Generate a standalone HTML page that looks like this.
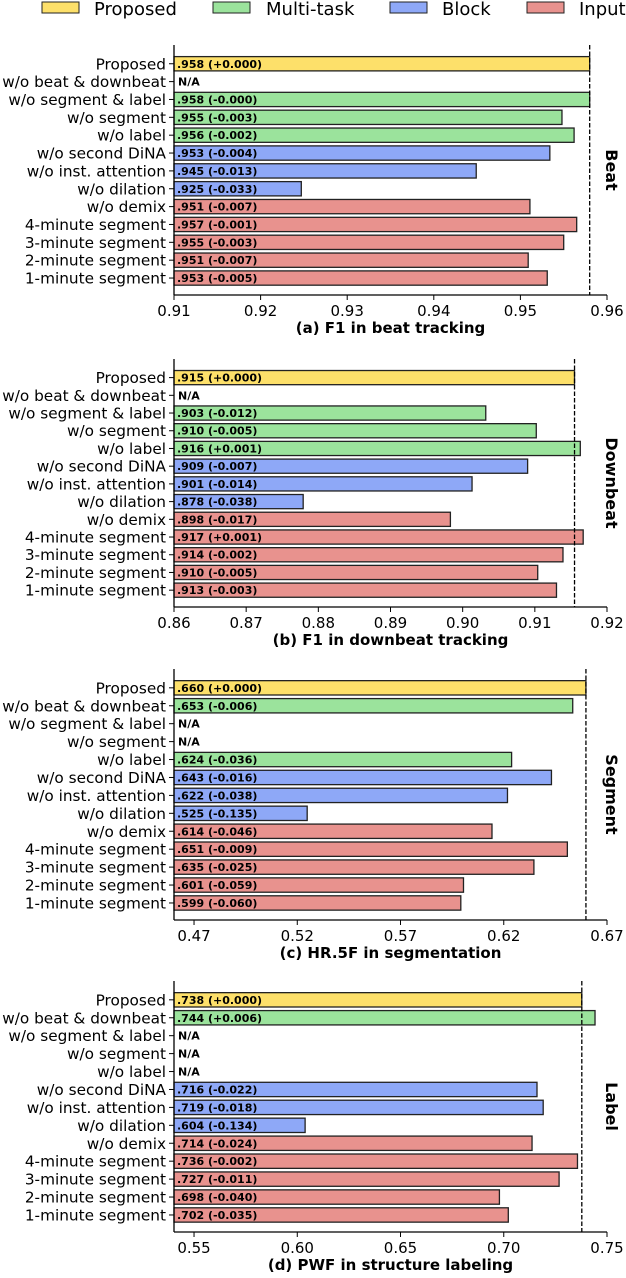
<!DOCTYPE html>
<html><head><meta charset="utf-8"><style>
body{margin:0;background:#fff}
svg{display:block;font-family:"DejaVu Sans","Liberation Sans",sans-serif}
</style></head><body>
<svg id="c" width="626" height="1278" viewBox="0 0 626 1278">
<g>
  <g><rect x="42" y="2" width="37" height="11" fill="#fde06a" stroke="#222" stroke-width="1"/><text x="94" y="15" font-size="18">Proposed</text></g>
  <g><rect x="213" y="2" width="37" height="11" fill="#9be39c" stroke="#222" stroke-width="1"/><text x="266" y="15" font-size="18">Multi-task</text></g>
  <g><rect x="390" y="2" width="37" height="11" fill="#8ea8f7" stroke="#222" stroke-width="1"/><text x="442" y="15" font-size="18">Block</text></g>
  <g><rect x="527" y="2" width="37" height="11" fill="#e8928e" stroke="#222" stroke-width="1"/><text x="579" y="15" font-size="18">Input</text></g>
</g>
</svg>
<script>
const categories=["Proposed","w/o beat & downbeat","w/o segment & label","w/o segment","w/o label","w/o second DiNA","w/o inst. attention","w/o dilation","w/o demix","4-minute segment","3-minute segment","2-minute segment","1-minute segment"];
const groups=["P","M","M","M","M","B","B","B","I","I","I","I","I"];
const beatValues=[0.958,null,0.958,0.9548,0.9562,0.9534,0.9449,0.9247,0.9511,0.9565,0.955,0.9509,0.9531];
const beatDeltas=["+0.000",null,"-0.000","-0.003","-0.002","-0.004","-0.013","-0.033","-0.007","-0.001","-0.003","-0.007","-0.005"];
const downValues=[0.9155,null,0.9032,0.9102,0.9163,0.909,0.9013,0.8779,0.8983,0.9167,0.9139,0.9104,0.913];
const downDeltas=["+0.000",null,"-0.012","-0.005","+0.001","-0.007","-0.014","-0.038","-0.017","+0.001","-0.002","-0.005","-0.003"];
const segValues=[0.6598,0.6534,null,null,0.6238,0.6431,0.6218,0.5248,0.6143,0.6508,0.6346,0.6005,0.5992];
const segDeltas=["+0.000","-0.006",null,null,"-0.036","-0.016","-0.038","-0.135","-0.046","-0.009","-0.025","-0.059","-0.060"];
const labValues=[0.7378,0.7442,null,null,null,0.7161,0.7191,0.6038,0.7137,0.7357,0.7268,0.6979,0.7022];
const labDeltas=["+0.000","+0.006",null,null,null,"-0.022","-0.018","-0.134","-0.024","-0.002","-0.011","-0.040","-0.035"];
const beatTicks=["0.91","0.92","0.93","0.94","0.95","0.96"];
const downTicks=["0.86","0.87","0.88","0.89","0.90","0.91","0.92"];
const segTicks=["0.47","0.52","0.57","0.62","0.67"];
const labTicks=["0.55","0.60","0.65","0.70","0.75"];
const colors={P:"#fde06a",M:"#9be39c",B:"#8ea8f7",I:"#e8928e"};
const NS="http://www.w3.org/2000/svg";
const svg=document.getElementById("c");
function mk(tag,attrs,parent){const e=document.createElementNS(NS,tag);for(const k in attrs)e.setAttribute(k,attrs[k]);parent.appendChild(e);return e;}
const panels=[
 {key:"beat",vals:beatValues,dl:beatDeltas,ticks:beatTicks,xmin:0.91,xmax:0.96,top:45,base:295,title:"(a) F1 in beat tracking",side:"Beat",ref:0.958},
 {key:"downbeat",vals:downValues,dl:downDeltas,ticks:downTicks,xmin:0.86,xmax:0.92,top:359,base:607,title:"(b) F1 in downbeat tracking",side:"Downbeat",ref:0.9155},
 {key:"segment",vals:segValues,dl:segDeltas,ticks:segTicks,xmin:0.4603,xmax:0.67,top:669,base:920,title:"(c) HR.5F in segmentation",side:"Segment",ref:0.6598},
 {key:"label",vals:labValues,dl:labDeltas,ticks:labTicks,xmin:0.5403,xmax:0.75,top:981,base:1232,title:"(d) PWF in structure labeling",side:"Label",ref:0.7378}
];
const L=174,R=607;
panels.forEach(p=>{
 const g=mk("g",{},svg);
 
 
 const xs=v=>L+(v-p.xmin)/(p.xmax-p.xmin)*(R-L);
 const step=(p.base-p.top)/14;
 const ys=i=>p.top+step*(i+1.05);
 const bh=step*0.8;
 categories.forEach((c,i)=>{
  const y=ys(i);
  const t=mk("text",{x:166,y:y+5.5,"font-size":"15.3","text-anchor":"end"},g);t.textContent=c;
  
  
  mk("line",{x1:169,x2:174,y1:y,y2:y,stroke:"#000","stroke-width":"1"},g);
  const v=p.vals[i];
  if(v===null){
   const n=mk("text",{x:L+4,y:y+4,"font-size":"11","font-weight":"bold"},g);n.textContent="N/A";
   
   
  } else {
   const b=mk("rect",{x:L,y:y-bh/2,width:Math.max(0,xs(v)-L),height:bh,fill:colors[groups[i]],stroke:"#222","stroke-width":"1.3"},g);
   
   
   const n=mk("text",{x:L+3,y:y+4,"font-size":"11","font-weight":"bold"},g);
   n.textContent=v.toFixed(3).replace(/^0/,"")+" ("+p.dl[i]+")";
   
   
  }
 });
 const dl=mk("line",{x1:xs(p.ref),x2:xs(p.ref),y1:p.top,y2:p.base,stroke:"#000","stroke-width":"1.3","stroke-dasharray":"4.5,2"},g);
 
 
 mk("line",{x1:L,x2:L,y1:p.top,y2:p.base,stroke:"#000","stroke-width":"1.3"},g);
 mk("line",{x1:L,x2:R,y1:p.base,y2:p.base,stroke:"#000","stroke-width":"1.3"},g);
 p.ticks.forEach(tk=>{
  const x=xs(parseFloat(tk));
  mk("line",{x1:x,x2:x,y1:p.base,y2:p.base+5,stroke:"#000","stroke-width":"1"},g);
  const t=mk("text",{x:x,y:p.base+21,"font-size":"15","text-anchor":"middle"},g);t.textContent=tk;
  
  
 });
 const tt=mk("text",{x:(L+R)/2,y:p.base+38,"font-size":"15","font-weight":"bold","text-anchor":"middle"},g);tt.textContent=p.title;
 
 
 const cy=(p.top+p.base)/2;
 const st=mk("text",{x:606,y:cy,"font-size":"16","font-weight":"bold","text-anchor":"middle",transform:"rotate(90 606 "+cy+")"},g);st.textContent=p.side;
 
 
});
</script>
</body></html>
